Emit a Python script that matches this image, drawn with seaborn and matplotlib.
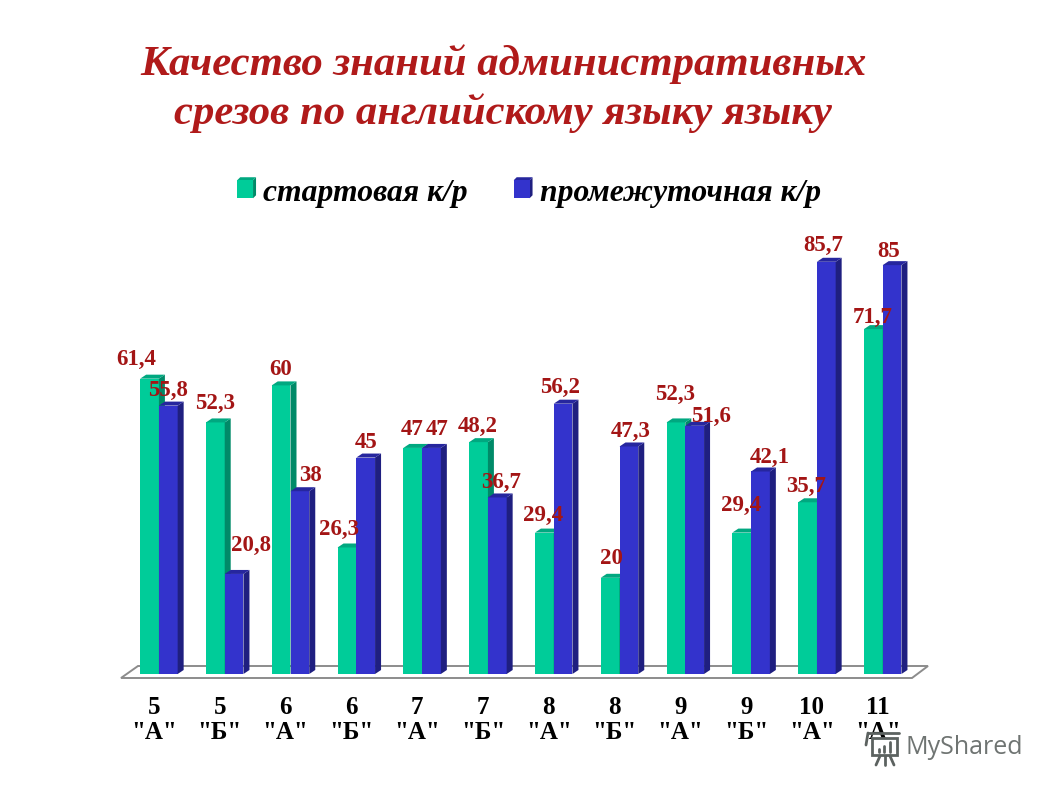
import pandas as pd
import matplotlib
matplotlib.use("Agg")
import matplotlib.pyplot as plt
from matplotlib.lines import Line2D
from matplotlib.patches import Polygon, Rectangle
from matplotlib.transforms import ScaledTranslation
import seaborn as sns

grades = ['5\n"А"', '5\n"Б"', '6\n"А"', '6\n"Б"', '7\n"А"', '7\n"Б"',
          '8\n"А"', '8\n"Б"', '9\n"А"', '9\n"Б"', '10\n"А"', '11\n"А"']
start_vals = [61.4, 52.3, 60, 26.3, 47, 48.2, 29.4, 20, 52.3, 29.4, 35.7, 71.7]
mid_vals = [55.8, 20.8, 38, 45, 47, 36.7, 56.2, 47.3, 51.6, 42.1, 85.7, 85]
series_names = ["стартовая к/р", "промежуточная к/р"]

# label nudges in pixels, from bar centre / bar top
start_nudge = [(-13, 19), (0, 19), (0, 16), (-8, 18), (-1, 18), (-1, 16),
               (-1, 17), (1, 19), (-1, 28), (-1, 27), (-1, 16), (-1, 12)]
mid_nudge = [(0, 15), (17, 28), (11, 16), (0, 15), (6, 18), (4, 15),
             (-3, 16), (2, 15), (16, 9), (9, 14), (-3, 16), (-3, 14)]

W, H = 1058, 793
green, blue = "#00CC99", "#3333CC"
shades = {green: ("#008A68", "#00A880"), blue: ("#1F1F80", "#26269E")}
serif = "Liberation Serif"
red = "#A31515"


def px(x, y):
    return x / W, 1 - y / H


sns.set_theme(style="white")
plt.rcParams["font.family"] = [serif, "DejaVu Sans"]

fig = plt.figure(figsize=(W / 100, H / 100), dpi=100)
left, bottom = px(126, 674)
ax = fig.add_axes([left, bottom, 12 * 65.8 / W, 481 / H])

df = pd.DataFrame({
    "grade": grades * 2,
    "value": start_vals + mid_vals,
    "series": [series_names[0]] * 12 + [series_names[1]] * 12,
})
sns.barplot(data=df, x="grade", y="value", hue="series", palette=[green, blue],
            width=0.57, gap=0, saturation=1, linewidth=0, ax=ax)
ax.set_xlim(-0.5, 11.5)
ax.set_ylim(0, 100)
ax.set_xlabel("")
ax.set_ylabel("")
ax.set_yticks([])
sns.despine(ax=ax, left=True, bottom=True)

# 3d look: side and top faces for every bar
dx, dy = 6 / 65.8, 4 / 4.81
for n, (cont, col) in enumerate(zip(ax.containers, [green, blue])):
    side, top = shades[col]
    for bar in cont:
        bar.set_zorder(3 + 2 * n)
        x0, x1, h = bar.get_x(), bar.get_x() + bar.get_width(), bar.get_height()
        ax.add_patch(Polygon([(x1, 0), (x1 + dx, dy), (x1 + dx, h + dy), (x1, h)],
                             color=side, lw=0, zorder=4 + 2 * n, clip_on=False))
        ax.add_patch(Polygon([(x0, h), (x0 + dx, h + dy), (x1 + dx, h + dy), (x1, h)],
                             color=top, lw=0, zorder=4 + 2 * n, clip_on=False))

# floor of the chart
fig.add_artist(Polygon([px(121, 678), px(138, 666), px(928, 666), px(912, 678)],
                       closed=True, facecolor="white", edgecolor="#8c8c8c", lw=1.4,
                       transform=fig.transFigure, zorder=0.5))
ax.patch.set_alpha(0)
ax.set_zorder(1)

# value labels
for cont, vals, nudges in zip(ax.containers, [start_vals, mid_vals], [start_nudge, mid_nudge]):
    for bar, v, (nx, ny) in zip(cont, vals, nudges):
        ax.annotate(f"{v:g}".replace(".", ","),
                    (bar.get_x() + bar.get_width() / 2, v),
                    xytext=(nx * 0.72, ny * 0.72), textcoords="offset points",
                    ha="center", va="center", fontsize=16.5, fontweight="bold",
                    color=red, family=serif, zorder=10, annotation_clip=False)

# group labels sit a bit left of the bars
ax.tick_params(axis="x", length=0, pad=16)
shift = ScaledTranslation(-5 / 100, 0, fig.dpi_scale_trans)
for t in ax.get_xticklabels():
    t.set_transform(t.get_transform() + shift)
    t.set_fontsize(18)
    t.set_fontweight("bold")
    t.set_color("black")
    t.set_linespacing(1.12)

# title
for line, y in zip(["Качество знаний административных",
                    "срезов по английскому языку языку"], [64, 113]):
    x, yy = px(503, y)
    fig.text(x, yy, line, ha="center", va="center", fontsize=30.8, color="#B01A1A",
             fontweight="bold", fontstyle="italic", family=serif)

# legend
handles, labels = ax.get_legend_handles_labels()
if ax.legend_:
    ax.legend_.remove()
leg = fig.legend(handles, labels, ncol=2, loc="center", bbox_to_anchor=px(529, 193),
                 frameon=False, handlelength=0.5, handleheight=0.5, handletextpad=0.32,
                 columnspacing=1.45, labelcolor="black",
                 prop=dict(family=serif, size=22.8, weight="bold", style="italic"))

# same 3d faces on the legend keys
fig.canvas.draw()
for p, col in zip(leg.get_patches(), [green, blue]):
    side, top = shades[col]
    b = p.get_window_extent()
    x0, x1, y0, y1 = b.x0 / W, b.x1 / W, b.y0 / H, b.y1 / H
    ddx, ddy = 3 / W, 3 / H
    fig.add_artist(Polygon([(x1, y0), (x1 + ddx, y0 + ddy), (x1 + ddx, y1 + ddy), (x1, y1)],
                           color=side, lw=0, transform=fig.transFigure))
    fig.add_artist(Polygon([(x0, y1), (x0 + ddx, y1 + ddy), (x1 + ddx, y1 + ddy), (x1, y1)],
                           color=top, lw=0, transform=fig.transFigure))

# watermark
x, y = px(905, 748)
fig.text(x, y, "MyShared", ha="left", va="center", fontsize=18, color="#6f7472",
         family="Open Sans", zorder=20)
icon = "#5c6260"
fig.add_artist(Rectangle(px(872, 755), 25 / W, 17 / H, facecolor="none", edgecolor=icon, lw=2,
                         transform=fig.transFigure, zorder=20))
for x0, y0, x1, y1 in [(868, 733, 899, 733), (868, 733, 866, 745), (880, 756, 876, 765),
                       (885, 756, 885, 765), (890, 756, 894, 765),
                       (879, 752, 879, 749), (884, 752, 884, 746), (890, 752, 890, 742)]:
    a, b = px(x0, y0), px(x1, y1)
    fig.add_artist(Line2D([a[0], b[0]], [a[1], b[1]], color=icon, lw=2,
                          transform=fig.transFigure, zorder=20))

fig.savefig("out.png", dpi=100)
